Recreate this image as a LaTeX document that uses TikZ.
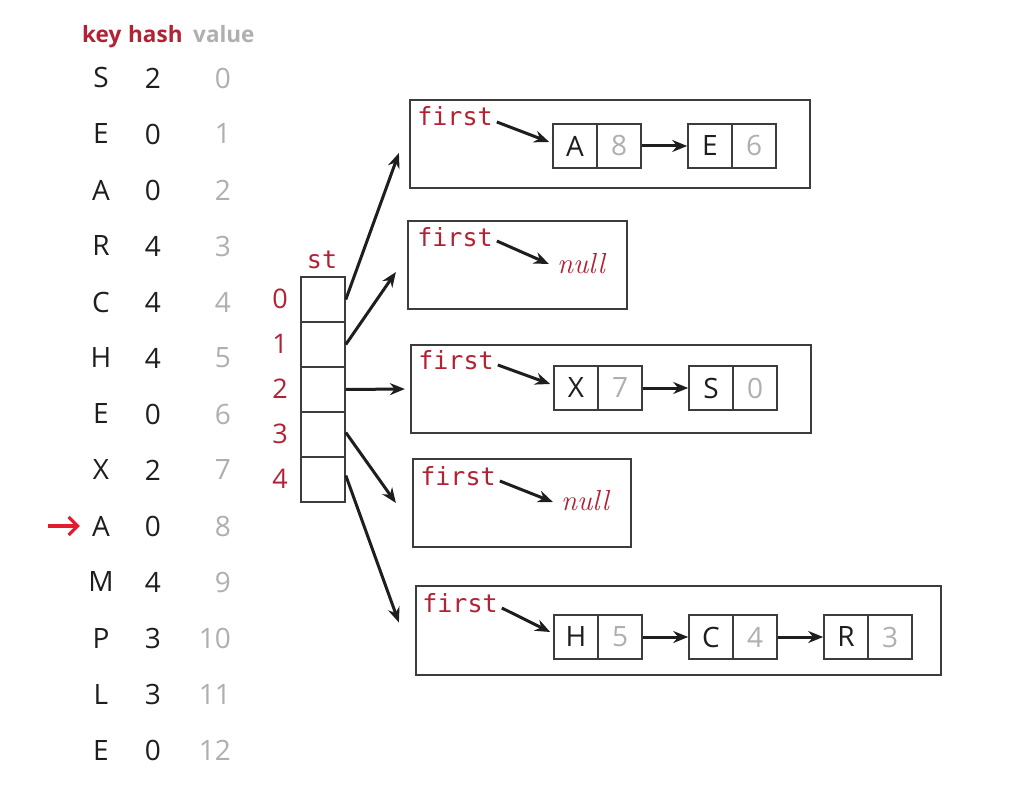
\documentclass[tikz,border=0pt]{standalone}
\usepackage{fontspec}
\setmainfont{Open Sans}
\newfontfamily\monofnt{DejaVu Sans Mono}
\newfontfamily\serfnt{Latin Modern Roman}
\usetikzlibrary{arrows.meta}
\definecolor{bookred}{RGB}{178,34,52}
\definecolor{arrred}{RGB}{228,28,48}
\definecolor{valgray}{RGB}{175,175,175}
\definecolor{inkdark}{RGB}{30,30,30}
\definecolor{boxline}{RGB}{60,60,60}
\tikzset{
  tabtxt/.style={text=inkdark, font=\fontsize{28}{30}\selectfont, inner sep=0pt},
  valtxt/.style={text=valgray, font=\fontsize{28}{30}\selectfont, inner sep=0pt, anchor=east},
  hdr/.style={font=\bfseries\fontsize{22.5}{26}\selectfont, inner sep=0pt, anchor=base west},
  idxtxt/.style={text=bookred, font=\fontsize{27}{30}\selectfont, inner sep=0pt},
  monotxt/.style={text=bookred, font=\monofnt\fontsize{25}{28}\selectfont, inner sep=0pt},
  nulltxt/.style={text=bookred, font=\serfnt\itshape\fontsize{29}{32}\selectfont, inner sep=0pt},
  stcell/.style={draw=boxline, line width=1.6pt, minimum width=44pt, minimum height=45pt, inner sep=0pt},
  listbox/.style={draw=boxline, line width=2.2pt, inner sep=0pt},
  kcell/.style={draw=boxline, line width=1.6pt, minimum width=44pt, minimum height=44pt, inner sep=0pt, text=inkdark, font=\fontsize{28}{30}\selectfont},
  vcell/.style={draw=boxline, line width=1.6pt, minimum width=44pt, minimum height=44pt, inner sep=0pt, text=valgray, font=\fontsize{28}{30}\selectfont},
  arr/.style={draw=inkdark, line width=3pt, -{Stealth[length=15pt,width=12pt]}},
  redarr/.style={draw=arrred, line width=3.2pt, -{Straight Barb[length=9pt,width=18pt]}}
}
\begin{document}
\begin{tikzpicture}[x=1pt,y=-1pt]
\useasboundingbox[fill=white] (0,0) rectangle (1022,810);
% header
\node[hdr, text=bookred] (hk) at (82,43) {key};
\node[hdr, text=bookred] (hh) at (128,43) {hash};
\node[hdr, text=valgray] (hv) at (193,43) {value};
% table
\foreach \k/\h/\v [count=\i from 0] in {S/2/0,E/0/1,A/0/2,R/4/3,C/4/4,H/4/5,E/0/6,X/2/7,A/0/8,M/4/9,P/3/10,L/3/11,E/0/12}{
  \node[tabtxt] (k\i) at (101,78+56*\i) {\k};
  \node[tabtxt] (h\i) at (153,78+56*\i) {\h};
  \node[valtxt] (v\i) at (231,78+56*\i) {\v};
}
\coordinate (ra) at (48,526);
\draw[redarr] (ra) -- ([xshift=-12pt]k8.west);
% st array
\foreach \i in {0,...,4}{
  \node[stcell] (st\i) at (323,299.5+45*\i) {};
  \node[idxtxt] (ix\i) at (280,299+45*\i) {\i};
}
\node[monotxt] (stl) at (322,260) {st};
% list boxes
\node[listbox, minimum width=400pt, minimum height=88pt] (b0) at (610,144) {};
\node[listbox, minimum width=219pt, minimum height=88pt] (b1) at (517.5,265) {};
\node[listbox, minimum width=400pt, minimum height=88pt] (b2) at (611,389) {};
\node[listbox, minimum width=218pt, minimum height=88pt] (b3) at (522,503) {};
\node[listbox, minimum width=525pt, minimum height=89pt] (b4) at (678.5,630.5) {};
% first labels
\node[monotxt] (f0) at (455,116) {first};
\node[monotxt] (f1) at (455,237) {first};
\node[monotxt] (f2) at (456,360) {first};
\node[monotxt] (f3) at (458,476) {first};
\node[monotxt] (f4) at (460,603) {first};
% list nodes
\node[kcell] (a0) at (575,146) {A};
\node[vcell] (a0v) at (619,146) {8};
\node[kcell] (e0) at (710,146) {E};
\node[vcell] (e0v) at (754,146) {6};
\node[nulltxt] (n1) at (581,264) {null};
\node[kcell] (x2) at (576,388) {X};
\node[vcell] (x2v) at (620,388) {7};
\node[kcell] (s2) at (711,388) {S};
\node[vcell] (s2v) at (755,388) {0};
\node[nulltxt] (n3) at (585,501) {null};
\node[kcell] (h4) at (576,637) {H};
\node[vcell] (h4v) at (620,637) {5};
\node[kcell] (c4) at (711,637) {C};
\node[vcell] (c4v) at (755,637) {4};
\node[kcell] (r4) at (846,637) {R};
\node[vcell] (r4v) at (890,637) {3};
% arrows inside boxes
\draw[arr] ([xshift=4pt,yshift=-6pt]f0.east) -- ([xshift=-3pt,yshift=4pt]a0.west);
\draw[arr] (a0v.east) -- (e0.west);
\draw[arr] ([xshift=4pt,yshift=-4pt]f1.east) -- ([xshift=-8pt,yshift=0pt]n1.west);
\draw[arr] ([xshift=4pt,yshift=-5pt]f2.east) -- ([xshift=-3pt,yshift=4pt]x2.west);
\draw[arr] (x2v.east) -- (s2.west);
\draw[arr] ([xshift=4pt,yshift=-5pt]f3.east) -- ([xshift=-8pt,yshift=-1pt]n3.west);
\draw[arr] ([xshift=4pt,yshift=-5pt]f4.east) -- ([xshift=-3pt,yshift=5pt]h4.west);
\draw[arr] (h4v.east) -- (c4.west);
\draw[arr] (c4v.east) -- (r4.west);
% arrows from st
\draw[arr] (st0.east) -- ([xshift=-10pt,yshift=-9pt]b0.west);
\draw[arr] (st1.east) -- ([xshift=-11pt,yshift=-7pt]b1.west);
\draw[arr] (st2.east) -- ([xshift=-5pt]b2.west);
\draw[arr] ([yshift=2pt]st3.east) -- ([xshift=-16pt,yshift=0pt]b3.west);
\draw[arr] ([yshift=4pt]st4.east) -- ([xshift=-16pt,yshift=8pt]b4.west);
\end{tikzpicture}
\end{document}
